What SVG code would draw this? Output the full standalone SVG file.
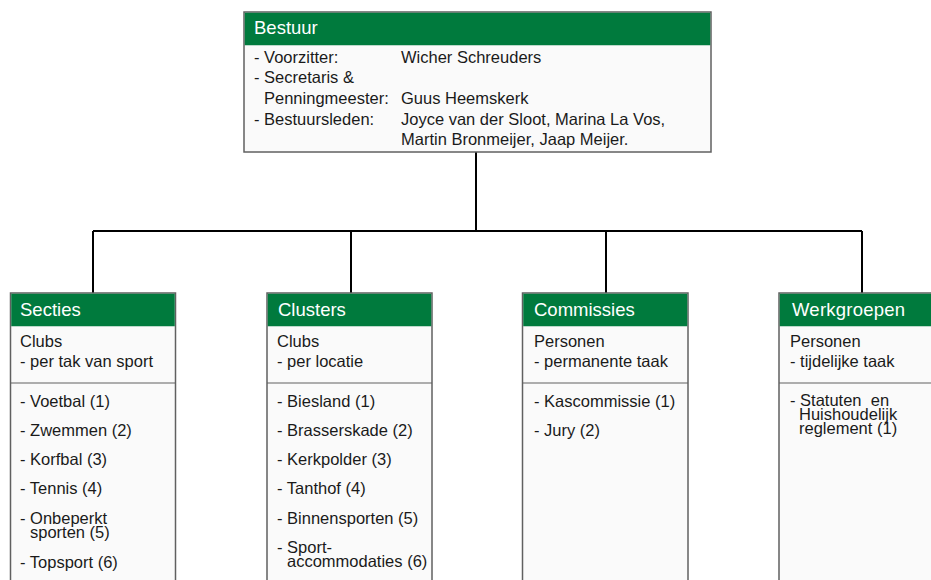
<svg xmlns="http://www.w3.org/2000/svg" width="931" height="580" viewBox="0 0 931 580">
<style>
.box{fill:#fafafa;stroke:#606060;stroke-width:1.5}
.hdr{fill:#007a3d}
.div{stroke:#606060;stroke-width:1.2}
.ht{font-family:"Liberation Sans",Arial,sans-serif;font-size:18.5px;fill:#ffffff}
.t{font-family:"Liberation Sans",Arial,sans-serif;font-size:16.5px;fill:#1a1a1a}
.conn{fill:none;stroke:#000;stroke-width:2}
</style>
<rect width="931" height="580" fill="#ffffff"/>
<g id="connectors">
<path class="conn" d="M476,152 V231 M93,231 H862 M93,231 V293 M351,231 V293 M606,231 V293 M862,231 V293"/>
</g>
<g id="bestuur">
<rect class="box" x="244" y="12" width="467" height="140"/>
<rect class="hdr" x="244.75" y="12.75" width="465.5" height="32.5"/>
<text class="ht" x="254" y="34">Bestuur</text>
<text class="t" x="254" y="63">- Voorzitter:</text>
<text class="t" x="401" y="63">Wicher Schreuders</text>
<text class="t" x="254" y="83">- Secretaris &amp;</text>
<text class="t" x="264" y="104">Penningmeester:</text>
<text class="t" x="401" y="104">Guus Heemskerk</text>
<text class="t" x="254" y="125">- Bestuursleden:</text>
<text class="t" x="401" y="125">Joyce van der Sloot, Marina La Vos,</text>
<text class="t" x="401" y="145">Martin Bronmeijer, Jaap Meijer.</text>
</g>
<g id="secties">
<rect class="box" x="10.5" y="293" width="165" height="310"/>
<rect class="hdr" x="11.25" y="293.75" width="163.5" height="32.5"/>
<line class="div" x1="10.5" y1="383" x2="175.5" y2="383"/>
<text class="ht" x="20" y="316">Secties</text>
<text class="t" x="20" y="347">Clubs</text>
<text class="t" x="20" y="367">- per tak van sport</text>
<text class="t" x="20" y="407">- Voetbal (1)</text>
<text class="t" x="20" y="436">- Zwemmen (2)</text>
<text class="t" x="20" y="465">- Korfbal (3)</text>
<text class="t" x="20" y="494">- Tennis (4)</text>
<text class="t" x="20" y="524">- Onbeperkt<tspan x="30" y="538">sporten (5)</tspan></text>
<text class="t" x="20" y="568">- Topsport (6)</text>
</g>
<g id="clusters">
<rect class="box" x="267" y="293" width="165" height="310"/>
<rect class="hdr" x="267.75" y="293.75" width="163.5" height="32.5"/>
<line class="div" x1="267" y1="383" x2="432" y2="383"/>
<text class="ht" x="278" y="316">Clusters</text>
<text class="t" x="277" y="347">Clubs</text>
<text class="t" x="277" y="367">- per locatie</text>
<text class="t" x="277" y="407">- Biesland (1)</text>
<text class="t" x="277" y="436">- Brasserskade (2)</text>
<text class="t" x="277" y="465">- Kerkpolder (3)</text>
<text class="t" x="277" y="494">- Tanthof (4)</text>
<text class="t" x="277" y="524">- Binnensporten (5)</text>
<text class="t" x="277" y="553">- Sport-<tspan x="287" y="567">accommodaties (6)</tspan></text>
</g>
<g id="commissies">
<rect class="box" x="522.5" y="293" width="165.5" height="310"/>
<rect class="hdr" x="523.25" y="293.75" width="164" height="32.5"/>
<line class="div" x1="522.5" y1="383" x2="688" y2="383"/>
<text class="ht" x="534" y="316">Commissies</text>
<text class="t" x="534" y="347">Personen</text>
<text class="t" x="534" y="367">- permanente taak</text>
<text class="t" x="534" y="407">- Kascommissie (1)</text>
<text class="t" x="534" y="436">- Jury (2)</text>
</g>
<g id="werkgroepen">
<rect class="box" x="779" y="293" width="170" height="310"/>
<rect class="hdr" x="779.75" y="293.75" width="168.5" height="32.5"/>
<line class="div" x1="779" y1="383" x2="949" y2="383"/>
<text class="ht" x="792" y="316" textLength="113" lengthAdjust="spacing">Werkgroepen</text>
<text class="t" x="790" y="347">Personen</text>
<text class="t" x="790" y="367">- tijdelijke taak</text>
<text class="t" x="790" y="406" xml:space="preserve">- Statuten  en<tspan x="799" y="420">Huishoudelijk</tspan><tspan x="799" y="434">reglement (1)</tspan></text>
</g>
</svg>
